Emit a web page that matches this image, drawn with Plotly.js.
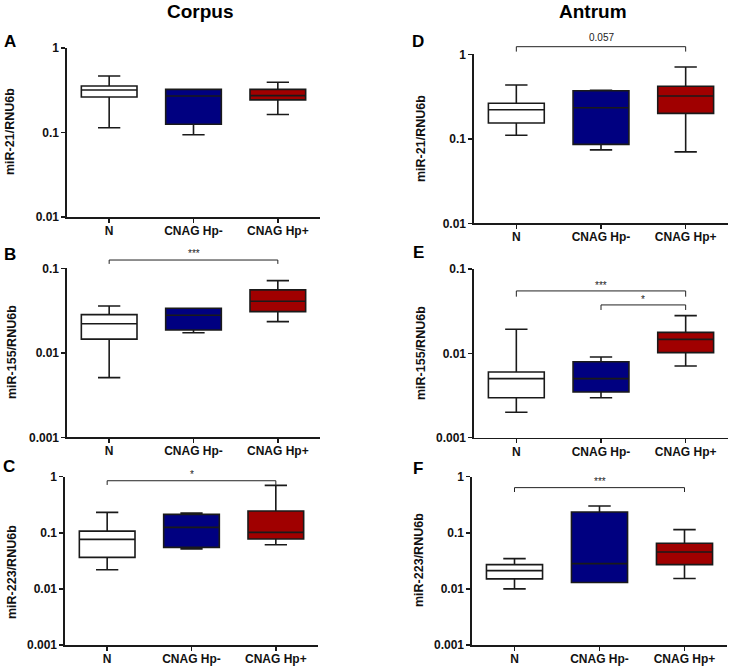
<!DOCTYPE html>
<html>
<head>
<meta charset="utf-8">
<script src="https://cdn.plot.ly/plotly-3.0.1.min.js"></script>
<style>
  html, body { margin: 0; padding: 0; background: #fff; }
  #chart { width: 733px; height: 670px; }
</style>
</head>
<body>
<div id="chart"></div>
<script>
const groups = ['N', 'CNAG Hp-', 'CNAG Hp+'];
const groupFill = ['#ffffff', '#000080', '#a00000'];

// box stats (lower whisker, Q1, median, Q3, upper whisker)
const corpusMiR21 = {
  lo:  [0.114, 0.094, 0.163],
  q1:  [0.263, 0.125, 0.243],
  med: [0.318, 0.270, 0.273],
  q3:  [0.355, 0.324, 0.324],
  hi:  [0.467, 0.324, 0.393]
};
const corpusMiR155 = {
  lo:  [0.00508, 0.0173, 0.0234],
  q1:  [0.0145, 0.0186, 0.0307],
  med: [0.0221, 0.0278, 0.0407],
  q3:  [0.0283, 0.0336, 0.0555],
  hi:  [0.0358, 0.0336, 0.0715]
};
const corpusMiR223 = {
  lo:  [0.022, 0.0514, 0.0614],
  q1:  [0.0365, 0.055, 0.0774],
  med: [0.0764, 0.125, 0.1018],
  q3:  [0.107, 0.213, 0.244],
  hi:  [0.231, 0.225, 0.701]
};
const antrumMiR21 = {
  lo:  [0.110, 0.074, 0.070],
  q1:  [0.154, 0.086, 0.200],
  med: [0.221, 0.233, 0.321],
  q3:  [0.263, 0.370, 0.418],
  hi:  [0.433, 0.375, 0.708]
};
const antrumMiR155 = {
  lo:  [0.0020, 0.00298, 0.00708],
  q1:  [0.00298, 0.00348, 0.0102],
  med: [0.00501, 0.00501, 0.01466],
  q3:  [0.00601, 0.00796, 0.01775],
  hi:  [0.0193, 0.00906, 0.028]
};
const antrumMiR223 = {
  lo:  [0.0100, 0.0130, 0.0153],
  q1:  [0.0151, 0.0130, 0.0271],
  med: [0.0212, 0.0282, 0.0456],
  q3:  [0.0271, 0.235, 0.065],
  hi:  [0.0347, 0.300, 0.114]
};

const tickVals = [0.001, 0.01, 0.1, 1];
const tickText = ['0.001', '0.01', '0.1', '1'];

// significance brackets: panel index, group from/to, label
const brackets = [
  { panel: 1, from: 0, to: 2, label: '0.057', top: 1.045, foot: 1.016, ty: 1.10 },
  { panel: 2, from: 0, to: 2, label: '***',   top: 1.049, foot: 1.026, ty: 1.09 },
  { panel: 3, from: 0, to: 2, label: '***',   top: 0.870, foot: 0.836, ty: 0.905 },
  { panel: 3, from: 1, to: 2, label: '*',     top: 0.787, foot: 0.757, ty: 0.822 },
  { panel: 4, from: 0, to: 2, label: '*',     top: 0.976, foot: 0.951, ty: 1.015 },
  { panel: 5, from: 0, to: 2, label: '***',   top: 0.935, foot: 0.909, ty: 0.97 }
];

const W = 733, H = 670;
const fx = v => v / W;
const fy = v => 1 - v / H;

const panels = [
  { stats: corpusMiR21,  ytitle: 'miR-21/RNU6b',  letter: 'A', xs: [67, 320],  ys: [48, 217],    dec: [-2, 0], lp: [10, 42],  tp: [10, 132] },
  { stats: antrumMiR21,  ytitle: 'miR-21/RNU6b',  letter: 'D', xs: [474, 728], ys: [54.3, 223.3], dec: [-2, 0], lp: [418, 41], tp: [421, 139] },
  { stats: corpusMiR155, ytitle: 'miR-155/RNU6b', letter: 'B', xs: [67, 320],  ys: [268.3, 437.3], dec: [-3, -1], lp: [10, 254], tp: [12, 352] },
  { stats: antrumMiR155, ytitle: 'miR-155/RNU6b', letter: 'E', xs: [474, 728], ys: [269, 437.7], dec: [-3, -1], lp: [418, 253], tp: [421, 353] },
  { stats: corpusMiR223, ytitle: 'miR-223/RNU6b', letter: 'C', xs: [65, 318],  ys: [476.7, 645], dec: [-3, 0], lp: [9, 466],  tp: [12, 572] },
  { stats: antrumMiR223, ytitle: 'miR-223/RNU6b', letter: 'F', xs: [472, 727], ys: [476.7, 645], dec: [-3, 0], lp: [418, 469], tp: [419, 560] }
];

const boldFont = { family: 'Liberation Sans, Arial, sans-serif', size: 12, color: '#111', weight: 'bold' };
const lineCol = '#1a1a1a';

const data = [];
const layout = {
  width: W, height: H,
  margin: { l: 0, r: 0, t: 0, b: 0 },
  paper_bgcolor: '#fff', plot_bgcolor: '#fff',
  showlegend: false,
  hovermode: false,
  annotations: [],
  shapes: []
};

panels.forEach((p, i) => {
  const n = i === 0 ? '' : String(i + 1);
  const xa = 'x' + n, ya = 'y' + n;

  groups.forEach((g, k) => {
    data.push({
      type: 'box',
      x: [g],
      lowerfence: [p.stats.lo[k]],
      q1: [p.stats.q1[k]],
      median: [p.stats.med[k]],
      q3: [p.stats.q3[k]],
      upperfence: [p.stats.hi[k]],
      fillcolor: groupFill[k],
      line: { color: lineCol, width: 1.6 },
      whiskerwidth: 0.4,
      width: 0.66,
      boxpoints: false,
      xaxis: xa, yaxis: ya
    });
  });

  layout['xaxis' + n] = {
    domain: [fx(p.xs[0]), fx(p.xs[1])],
    anchor: ya,
    type: 'category',
    categoryorder: 'array', categoryarray: groups,
    range: [-0.5, 2.5],
    showline: true, linecolor: lineCol, linewidth: 1.6,
    ticks: 'outside', ticklen: 4, tickwidth: 1.5, tickcolor: lineCol,
    ticklabelstandoff: -2,
    showgrid: false, zeroline: false,
    tickfont: boldFont, fixedrange: true
  };
  layout['yaxis' + n] = {
    domain: [fy(p.ys[1]), fy(p.ys[0])],
    anchor: xa,
    type: 'log',
    range: p.dec,
    tickmode: 'array', tickvals: tickVals, ticktext: tickText,
    showline: true, linecolor: lineCol, linewidth: 1.6,
    ticks: 'outside', ticklen: 4, tickwidth: 1.5, tickcolor: lineCol,
    showgrid: false, zeroline: false,
    tickfont: boldFont, fixedrange: true
  };

  layout.annotations.push({
    xref: 'paper', yref: 'paper', x: fx(p.lp[0]), y: fy(p.lp[1]),
    text: p.letter, showarrow: false, xanchor: 'center', yanchor: 'middle',
    font: { family: 'Liberation Sans, Arial, sans-serif', size: 17, color: '#000', weight: 'bold' }
  });
  layout.annotations.push({
    xref: 'paper', yref: 'paper', x: fx(p.tp[0]), y: fy(p.tp[1]),
    text: p.ytitle, showarrow: false, textangle: -90, xanchor: 'center', yanchor: 'middle',
    font: { family: 'Liberation Sans, Arial, sans-serif', size: 12.5, color: '#111', weight: 'bold' }
  });
});

// column titles
[['Corpus', 200], ['Antrum', 593]].forEach(([t, cx]) => {
  layout.annotations.push({
    xref: 'paper', yref: 'paper', x: fx(cx), y: fy(12),
    text: t, showarrow: false, xanchor: 'center', yanchor: 'middle',
    font: { family: 'Liberation Sans, Arial, sans-serif', size: 19, color: '#000', weight: 'bold' }
  });
});

brackets.forEach(b => {
  const n = b.panel === 0 ? '' : String(b.panel + 1);
  layout.shapes.push({
    type: 'path', xref: 'x' + n, yref: 'y' + n + ' domain',
    path: `M ${b.from},${b.foot} L ${b.from},${b.top} L ${b.to},${b.top} L ${b.to},${b.foot}`,
    line: { color: '#222', width: 1 }
  });
  layout.annotations.push({
    xref: 'x' + n, yref: 'y' + n + ' domain',
    x: (b.from + b.to) / 2, y: b.ty,
    text: b.label, showarrow: false, xanchor: 'center', yanchor: 'middle',
    font: { family: 'Liberation Sans, Arial, sans-serif', size: 10, color: '#222' }
  });
});

Plotly.newPlot('chart', data, layout, { displayModeBar: false, staticPlot: true });
</script>
</body>
</html>
